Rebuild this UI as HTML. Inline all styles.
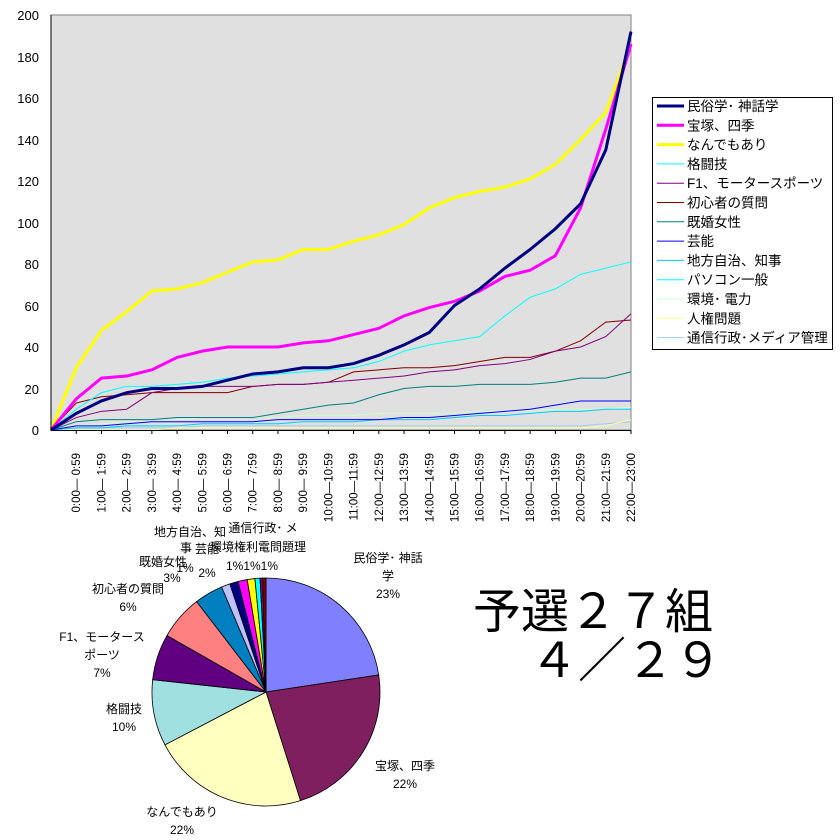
<!DOCTYPE html>
<html><head><meta charset="utf-8"><style>
html,body{margin:0;padding:0;background:#fff;width:840px;height:840px;overflow:hidden}
svg{display:block}
text{font-family:"Liberation Sans","Noto Sans CJK JP",sans-serif;fill:#000}
</style></head><body>
<svg id="s" width="840" height="840" xmlns="http://www.w3.org/2000/svg">
<rect x="51" y="15" width="580" height="415" fill="#e0e0e0" stroke="#808080" stroke-width="1"/>
<g id="lines"></g>
<line x1="51" y1="15" x2="51" y2="431" stroke="#000"/>
<line x1="51" y1="430.5" x2="631" y2="430.5" stroke="#000"/>
<g font-size="13" text-anchor="end">
<text x="39" y="20">200</text><text x="39" y="62">180</text><text x="39" y="103">160</text>
<text x="39" y="145">140</text><text x="39" y="186">120</text><text x="39" y="228">100</text>
<text x="39" y="269">80</text><text x="39" y="311">60</text><text x="39" y="352">40</text>
<text x="39" y="394">20</text><text x="39" y="435">0</text>
</g>
<g id="xl" font-size="11.5" text-anchor="end"></g>
<rect x="652.5" y="97.5" width="180" height="252" fill="#fff" stroke="#000"/>
<g id="leg" font-size="13.5"></g>
<g id="pie" stroke="#000" stroke-width="0.8"></g>
<g font-size="12" text-anchor="middle">
<text x="388" y="562">民俗学･ 神話</text><text x="388" y="580">学</text><text x="388" y="598">23%</text>
<text x="405" y="770">宝塚、四季</text><text x="405" y="788">22%</text>
<text x="182" y="816">なんでもあり</text><text x="182" y="834">22%</text>
<text x="124" y="713">格闘技</text><text x="124" y="731">10%</text>
<text x="102" y="641">F1、モータース</text><text x="102" y="659">ポーツ</text><text x="102" y="677">7%</text>
<text x="128" y="593">初心者の質問</text><text x="128" y="611">6%</text>
<text x="163" y="566">既婚女性</text><text x="172" y="582">3%</text>
<text x="190" y="536">地方自治、知</text><text x="186" y="552">事</text>
<text x="207" y="553">芸能</text><text x="207" y="577">2%</text><text x="185" y="572">1%</text>
<text x="263" y="532">通信行政･ メ</text>
<text x="258" y="551">環境権利電問題理</text>
<text x="252" y="570">1%1%1%</text>
</g>
<text x="473" y="628" font-size="48">予選２７組</text>
<text x="530" y="677" font-size="48">４／２９</text>
</svg>
<script>
const NS="http://www.w3.org/2000/svg";
function X(i){return 51+i*580/23}
function Y(v){return 430-v*2.075}
const series=[
["#000080",3,[0,8,14,18,20,20,21,24,27,28,30,30,32,36,41,47,60,68,78,87,97,109,135,192]],
["#ff00ff",3,[0,15,25,26,29,35,38,40,40,40,42,43,46,49,55,59,62,67,74,77,84,107,145,186]],
["#ffff00",3,[0,30,48,57,67,68,71,76,81,82,87,87,91,94,99,107,112,115,117,121,128,140,153,186]],
["#00ffff",1,[0,10,18,21,21,22,23,25,26,27,28,29,30,33,38,41,43,45,55,64,68,75,78,81]],
["#800080",1,[0,6,9,10,18,20,21,21,21,22,22,23,24,25,26,28,29,31,32,34,38,40,45,56]],
["#800000",1,[0,13,16,17,18,18,18,18,21,22,22,23,28,29,30,30,31,33,35,35,38,43,52,53]],
["#008080",1,[0,4,5,5,5,6,6,6,6,8,10,12,13,17,20,21,21,22,22,22,23,25,25,28]],
["#0000ff",1,[0,2,2,3,4,4,4,4,4,5,5,5,5,5,6,6,7,8,9,10,12,14,14,14]],
["#00ccff",1,[0,1,1,2,2,2,3,3,3,3,4,4,4,5,5,5,6,7,7,8,9,9,10,10]],
["#ccffcc",1,[0,2,3,4,4,5,6,6,6,6,7,7,7,8,8,8,8,9,9,9,10,10,10,11]],
["#ffff99",1,[0,0,0,0,0,1,1,1,1,1,1,1,1,1,1,1,1,1,1,1,1,1,2,5]],
["#99ccff",1,[0,1,1,1,1,1,2,2,2,2,2,2,2,2,2,2,2,2,2,2,2,2,3,4]]
];
const g=document.getElementById("lines");
for(const s of series.slice().reverse()){const p=document.createElementNS(NS,"polyline");
p.setAttribute("points",s[2].map((v,i)=>X(i)+","+Y(v)).join(" "));
p.setAttribute("fill","none");p.setAttribute("stroke",s[0]);p.setAttribute("stroke-width",s[1]);g.appendChild(p);}
for(let i=1;i<=23;i++){const l=document.createElementNS(NS,"line");l.setAttribute("x1",X(i));l.setAttribute("x2",X(i));l.setAttribute("y1",430);l.setAttribute("y2",434);l.setAttribute("stroke","#000");g.appendChild(l);}
const xl=["0:00― 0:59","1:00― 1:59","2:00― 2:59","3:00― 3:59","4:00― 4:59","5:00― 5:59","6:00― 6:59","7:00― 7:59","8:00― 8:59","9:00― 9:59","10:00―10:59","11:00―11:59","12:00―12:59","13:00―13:59","14:00―14:59","15:00―15:59","16:00―16:59","17:00―17:59","18:00―18:59","19:00―19:59","20:00―20:59","21:00―21:59","22:00―23:00"];
const xg=document.getElementById("xl");
xl.forEach((t,k)=>{const e=document.createElementNS(NS,"text");const x=X(k+1)+4;e.setAttribute("transform","translate("+x+",453) rotate(-90)");e.textContent=t;xg.appendChild(e);});
const leg=[["民俗学･ 神話学","#000080",3],["宝塚、四季","#ff00ff",3],["なんでもあり","#ffff00",3],["格闘技","#00ffff",1],["F1、モータースポーツ","#800080",1],["初心者の質問","#800000",1],["既婚女性","#008080",1],["芸能","#0000ff",1],["地方自治、知事","#00ccff",1],["パソコン一般","#00ffff",1],["環境･ 電力","#ccffcc",1],["人権問題","#ffff99",1],["通信行政･メディア管理","#99ccff",1]];
const lg=document.getElementById("leg");
leg.forEach((e,i)=>{const y=106+i*19.3;const l=document.createElementNS(NS,"line");l.setAttribute("x1",657);l.setAttribute("x2",684);l.setAttribute("y1",y);l.setAttribute("y2",y);l.setAttribute("stroke",e[1]);l.setAttribute("stroke-width",e[2]);lg.appendChild(l);
const t=document.createElementNS(NS,"text");t.setAttribute("x",687);t.setAttribute("y",y+5);t.textContent=e[0];lg.appendChild(t);});
const cx=266,cy=692,r=114;
const sl=[[0,81.4,"#8080ff"],[81.4,162.4,"#7f1f5f"],[162.4,242.4,"#ffffc0"],[242.4,276.2,"#a0e0e0"],[276.2,299.7,"#600080"],[299.7,322.5,"#ff8080"],[322.5,337.1,"#0080c0"],[337.1,341.5,"#c0c0ff"],[341.5,345.8,"#000080"],[345.8,350.5,"#ff00ff"],[350.5,354.4,"#ffff00"],[354.4,357,"#00ffff"],[357,358.3,"#800080"],[358.3,360,"#800000"]];
const pg=document.getElementById("pie");
function pt(a){a=a*Math.PI/180;return [cx+r*Math.sin(a),cy-r*Math.cos(a)]}
for(const s of sl){const a=pt(s[0]),b=pt(s[1]);const large=(s[1]-s[0])>180?1:0;
const p=document.createElementNS(NS,"path");p.setAttribute("d",`M${cx},${cy}L${a[0]},${a[1]}A${r},${r} 0 ${large} 1 ${b[0]},${b[1]}Z`);p.setAttribute("fill",s[2]);pg.appendChild(p);}
</script>
</body></html>
